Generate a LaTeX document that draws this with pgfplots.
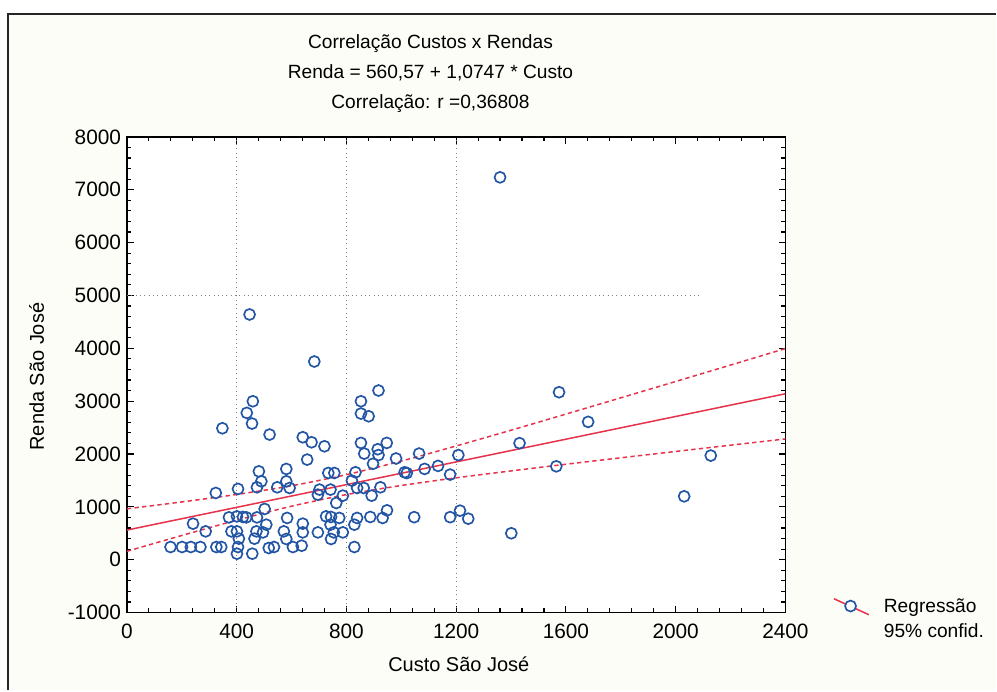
\documentclass[border=0pt]{standalone}
\usepackage{pgfplots}
\pgfplotsset{compat=1.18}
\usepackage{fontspec}
\setmainfont{Liberation Sans}

\definecolor{markblue}{RGB}{35,85,165}
\definecolor{regred}{RGB}{230,50,75}
\definecolor{paper}{RGB}{253,253,248}

\pgfplotstableread{
x y
159 240
201 240
233 240
268 240
326 240
344 240
405 240
401 114
457 114
517 221
536 240
241 682
287 536
372 801
401 820
423 808
435 801
474 801
381 536
401 536
408 398
465 398
472 536
496 517
508 663
502 960
324 1263
405 1339
474 1370
481 1672
490 1483
548 1370
348 2487
437 2778
456 2576
459 2998
520 2368
447 4640
581 1717
581 1483
593 1357
657 1894
641 2317
673 2222
720 2146
734 1641
756 1641
702 1326
696 1231
742 1326
787 1212
763 1073
833 1654
820 1496
839 1357
863 1357
892 1212
924 1370
853 2210
865 2008
897 1815
914 2090
917 1980
947 2210
981 1915
1012 1654
853 2998
853 2765
881 2714
917 3201
584 790
641 682
572 536
641 517
581 392
605 240
637 265
696 517
726 820
744 808
774 790
742 663
744 392
754 517
787 517
829 663
839 790
887 808
932 790
948 934
829 240
683 3750
1065 2008
1020 1640
1085 1718
1134 1775
1178 1610
1208 1980
1431 2205
1575 3169
1565 1767
1047 805
1178 805
1214 928
1244 776
1401 500
1681 2608
2031 1199
2128 1970
1360 7235
}\scatterdata

\pgfplotstableread{
x upper lower
0 963 159
200 1093 458
400 1234 747
600 1399 1012
800 1609 1232
1000 1866 1404
1200 2152 1549
1400 2450 1680
1600 2755 1806
1800 3063 1928
2000 3372 2048
2200 3683 2167
2400 3995 2285
}\confband

\begin{document}
\begin{tikzpicture}
% page and frame (1px of the reference = 0.6pt)
\fill[white] (0,0) rectangle (598.2pt,414.6pt);
\fill[paper] (4.8pt,0) rectangle (598.2pt,406.2pt);
\draw[black!85, line width=0.9pt] (4.8pt,0) -- (4.8pt,406.2pt) -- (598.2pt,406.2pt);

\begin{axis}[
    at={(76.2pt,46.8pt)}, anchor=south west,
    scale only axis,
    width=395.4pt, height=285.6pt,
    xmin=0, xmax=2400, ymin=-1000, ymax=8000,
    xtick={0,400,...,2400},
    ytick={-1000,0,...,8000},
    minor x tick num=4, minor y tick num=4,
    tick align=inside,
    major tick length=4pt, minor tick length=2.5pt,
    every tick/.style={black, line width=0.7pt},
    axis line style={black, line width=1.1pt},
    axis background/.style={fill=white},
    /pgf/number format/set thousands separator={},
    /pgf/number format/assume math mode=true,
    ticklabel style={font=\fontsize{12.5}{14}\selectfont},
    xticklabel style={yshift=-3.5pt},
    label style={font=\fontsize{12}{14}\selectfont},
    xlabel={Custo São José},
    ylabel={Renda São José},
    xlabel style={at={(axis description cs:0.504,-0.109)}, anchor=center},
    ylabel style={at={(axis description cs:-0.137,0.496)}, anchor=center},
    title={Correlação Custos x Rendas\\Renda = 560,57 + 1,0747 * Custo\\Correlação: r =0,36808},
    title style={at={(axis description cs:0.461,1.112)}, anchor=center, align=center,
        font=\fontsize{11.5}{18}\selectfont},
    legend style={at={(axis description cs:1.072,0.037)}, anchor=north west,
        draw=none, fill=none, font=\fontsize{11.5}{15.6}\selectfont,
        row sep=1pt, inner sep=0pt},
    legend cell align=left,
]
% grid lines that show in the reference
\addplot[gray, dotted, line width=0.6pt, forget plot] coordinates {(400,-1000) (400,8000)};
\addplot[gray, dotted, line width=0.6pt, forget plot] coordinates {(800,-1000) (800,8000)};
\addplot[gray, dotted, line width=0.6pt, forget plot] coordinates {(1200,-1000) (1200,8000)};
\addplot[gray, dotted, line width=0.6pt, forget plot] coordinates {(0,5000) (2090,5000)};

% regression and 95% band
\addplot[regred, line width=0.9pt, forget plot] coordinates {(0,560.57) (2400,3139.9)};
\addplot[regred, line width=0.9pt, dash pattern=on 2.6pt off 2pt, smooth, forget plot]
    table[x=x, y=upper] {\confband};
\addplot[regred, line width=0.9pt, dash pattern=on 2.6pt off 2pt, smooth, forget plot]
    table[x=x, y=lower] {\confband};

% data
\addplot[only marks, mark=o, mark size=3.3pt, markblue,
    mark options={line width=1pt}, forget plot] table[x=x, y=y] {\scatterdata};

\addlegendimage{legend image code/.code={
    \path[draw=none, fill=none] (0pt,0pt) rectangle (28pt,0.1pt);
    \draw[regred, line width=0.9pt] (0pt,4.8pt) -- (21pt,-4.8pt);
    \draw[markblue, line width=1pt, fill=white] (10pt,0.4pt) circle (3.3pt);}}
\addlegendentry{Regressão}
\addlegendimage{empty legend}
\addlegendentry{95\% confid.}
\end{axis}
\end{tikzpicture}
\end{document}
